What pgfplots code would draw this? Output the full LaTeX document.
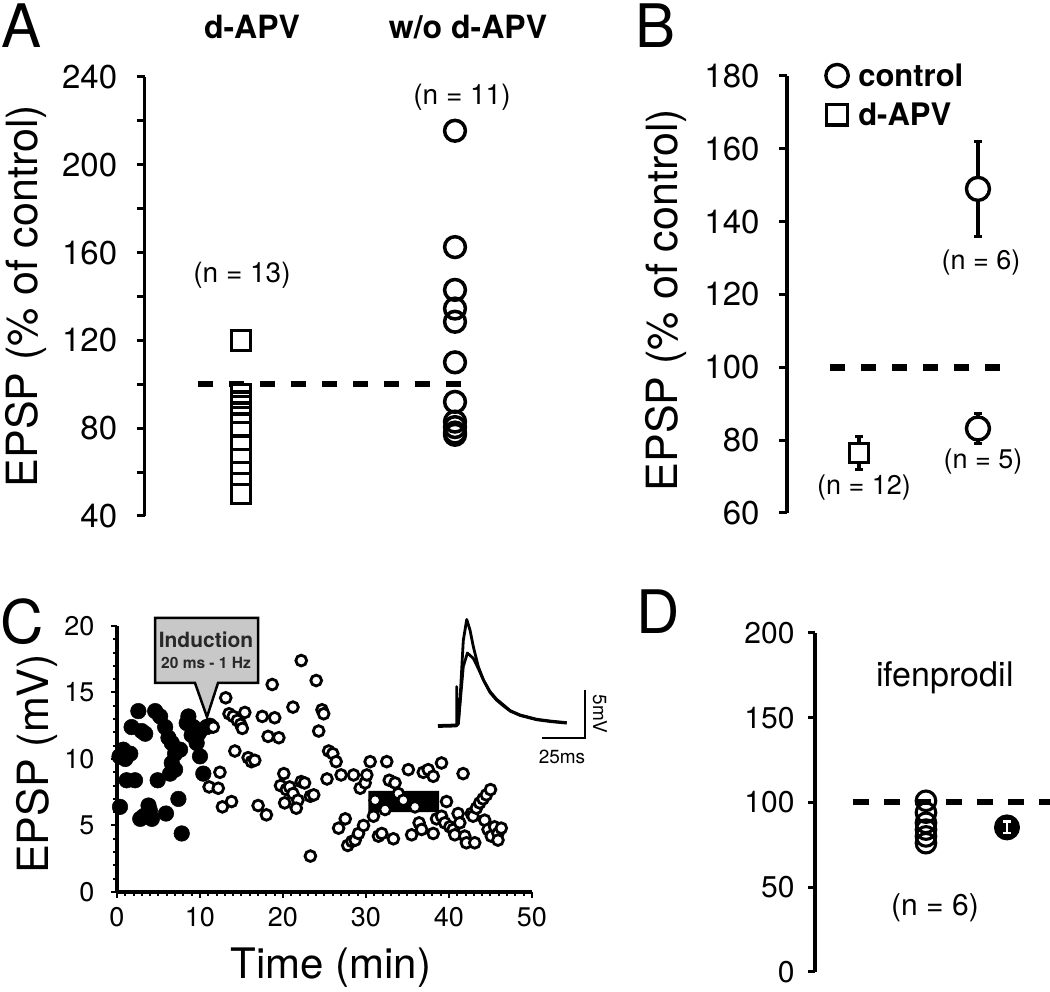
\documentclass[border=0pt]{standalone}
\usepackage{fontspec}
\setmainfont{TeX Gyre Heros}
\usepackage{pgfplots}
\pgfplotsset{compat=1.18}
\newcommand{\fs}[1]{\fontsize{#1}{#1}\selectfont}
\pgfdeclareplotmark{oA}{\pgfsetlinewidth{3.5pt}\pgfpathcircle{\pgfpointorigin}{\pgfplotmarksize}\pgfusepathqstroke}
\pgfdeclareplotmark{oBf}{\pgfsetlinewidth{3.4pt}\pgfsetfillcolor{white}\pgfpathcircle{\pgfpointorigin}{\pgfplotmarksize}\pgfusepathqfillstroke}
\pgfdeclareplotmark{oCf}{\pgfsetlinewidth{2.8pt}\pgfsetfillcolor{white}\pgfpathcircle{\pgfpointorigin}{\pgfplotmarksize}\pgfusepathqfillstroke}
\pgfdeclareplotmark{oD}{\pgfsetlinewidth{3.1pt}\pgfpathcircle{\pgfpointorigin}{\pgfplotmarksize}\pgfusepathqstroke}
\pgfdeclareplotmark{sqf}{\pgfsetlinewidth{3.2pt}\pgfsetfillcolor{white}\pgfpathrectangle{\pgfqpoint{-\pgfplotmarksize}{-\pgfplotmarksize}}{\pgfqpoint{2\pgfplotmarksize}{2\pgfplotmarksize}}\pgfusepathqfillstroke}
\pgfplotsset{
  /pgf/number format/assume math mode=true,
  panel/.style={scale only axis, anchor=south west, clip=false,
    axis line style={line width=3.2pt, black},
    tick align=outside, tick style={line width=3pt, black},
    tick pos=left},
}
\begin{document}
\begin{tikzpicture}
\path[use as bounding box] (0pt,0pt) rectangle (1050pt,992pt);

% ---------------- Panel A ----------------
\begin{axis}[panel, at={(144.7pt,476pt)}, width=374.5pt, height=439pt,
  xmin=0.55, xmax=2.3, ymin=40, ymax=240,
  axis x line=none, axis y line*=left,
  ytick={40,80,...,240}, minor ytick={60,100,...,220},
  major tick length=8pt, minor tick length=8pt,
  tick label style={font=\fs{33}}, yticklabel style={xshift=-16pt}]
\addplot[black, line width=6pt, dash pattern=on 15pt off 16pt] coordinates {(0.80,100) (2.05,100)};
\addplot[only marks, black, mark=sqf, mark size=9.8pt] coordinates {
(1,120) (1,95.5) (1,92) (1,90) (1,87) (1,85) (1,82) (1,78) (1,72) (1,66) (1,60) (1,55) (1,50)};
\addplot[only marks, black, mark=oA, mark size=10.4pt] coordinates {
(2,215.5) (2,162.5) (2,143) (2,134.5) (2,128.5) (2,110) (2,92) (2,83) (2,80.5) (2,78) (2,77)};
\end{axis}
\node[font=\fs{60}] at (22pt,966pt) {A};
\node[font=\fs{32}\bfseries] at (252pt,965pt) {d-APV};
\node[font=\fs{32}\bfseries] at (468pt,965pt) {w/o d-APV};
\node[font=\fs{28}] at (242pt,717pt) {(n = 13)};
\node[font=\fs{28}] at (462pt,895pt) {(n = 11)};
\node[font=\fs{43}, rotate=90] at (26pt,696pt) {EPSP (\% of control)};

% ---------------- Panel B ----------------
\begin{axis}[panel, at={(787pt,479pt)}, width=256.4pt, height=437pt,
  xmin=0.395, xmax=2.55, ymin=60, ymax=180,
  axis x line=none, axis y line*=left,
  ytick={60,80,...,180}, major tick length=8pt,
  tick label style={font=\fs{33}}, yticklabel style={xshift=-16pt},
  legend style={draw=none, fill=none, at={(axis cs:0.72,184)}, anchor=north west,
    font=\fs{31}\bfseries, row sep=11pt, column sep=8pt, inner sep=0pt},
  legend cell align=left,
  legend image code/.code={\draw[mark repeat=2, mark phase=2, #1] plot coordinates {(0pt,0pt) (12pt,0pt) (24pt,0pt)};}]
\addplot[black, line width=6.5pt, dash pattern=on 15pt off 16pt, forget plot] coordinates {(0.756,100) (2.185,100)};
% error bars (mean +- sem)
\addplot[black, line width=3.2pt, forget plot] coordinates {(1,72) (1,81)};
\addplot[black, line width=3.2pt, forget plot] coordinates {(0.966,81) (1.034,81)};
\addplot[black, line width=3.2pt, forget plot] coordinates {(0.966,72) (1.034,72)};
\addplot[black, line width=3.2pt, forget plot] coordinates {(2,136) (2,162)};
\addplot[black, line width=3.2pt, forget plot] coordinates {(1.966,162) (2.034,162)};
\addplot[black, line width=3.2pt, forget plot] coordinates {(1.966,136) (2.034,136)};
\addplot[black, line width=3.2pt, forget plot] coordinates {(2,79.1) (2,87.3)};
\addplot[black, line width=3.2pt, forget plot] coordinates {(1.966,87.3) (2.034,87.3)};
\addplot[black, line width=3.2pt, forget plot] coordinates {(1.966,79.1) (2.034,79.1)};
% means
\addplot[forget plot, only marks, black, mark=sqf, mark size=9.6pt] coordinates {(1,76.5)};
\addplot[forget plot, only marks, black, mark=oBf, mark size=11.5pt] coordinates {(2,149) (2,83.2)};
\addlegendimage{only marks, black, mark=oBf, mark size=11.2pt}
\addlegendentry{control}
\addlegendimage{only marks, black, mark=sqf, mark size=10.3pt}
\addlegendentry{d-APV}
\end{axis}
\node[font=\fs{60}] at (656pt,966pt) {B};
\node[font=\fs{43}, rotate=90] at (666pt,692pt) {EPSP (\% of control)};
\node[font=\fs{27}] at (981pt,729pt) {(n = 6)};
\node[font=\fs{27}] at (864pt,504pt) {(n = 12)};
\node[font=\fs{27}] at (983pt,530pt) {(n = 5)};

% ---------------- Panel C ----------------
\begin{axis}[panel, at={(117pt,100pt)}, width=415pt, height=266pt,
  xmin=0, xmax=50, ymin=0, ymax=20,
  axis x line*=bottom, axis y line*=left,
  xtick={0,10,...,50}, ytick={0,5,...,20},
  minor x tick num=9, minor y tick num=4,
  major tick length=6pt, minor tick length=4pt,
  tick style={line width=2pt, black},
  tick label style={font=\fs{27}}, yticklabel style={xshift=-13pt}, xticklabel style={yshift=-6pt}]
\addplot[only marks, black, line width=0.5pt, mark=*, mark size=7.8pt, mark options={fill=black}] coordinates {
(0.3,10.2) (0.36,6.4) (0.76,10.7) (1.0,10.0) (1.6,10.4) (1.16,8.4) (2.17,8.4) (1.76,12.4) (2.57,13.6)
(2.97,12.1) (3.4,11.9) (2.8,5.5) (3.2,5.7) (3.8,6.5) (3.97,6.1) (4.2,5.5) (4.6,13.6) (5.2,13.2) (4.9,8.4)
(5.8,12.4) (6.2,11.6) (5.9,5.9) (6.6,11.2) (7.0,10.4) (7.6,10.7) (7.0,9.2) (6.6,9.7) (6.4,8.9) (7.4,7.0)
(7.8,4.4) (8.6,13.2) (8.4,12.7) (9.2,12.4) (9.0,11.8) (9.8,11.9) (9.6,11.2) (10.0,10.2) (10.4,8.9)
(10.0,12.1) (10.8,12.4) (11.2,12.5)};
\addplot[fill=black, draw=none] coordinates {(30.3,6.0) (38.8,6.0) (38.8,7.6) (30.3,7.6) (30.3,6.0)};
\addplot[only marks, black, mark=oCf, mark size=5.4pt] coordinates {
(11.6,12.4) (11.1,7.9) (12.2,7.8) (12.4,9.0) (12.7,6.4) (13.8,6.8) (13.1,14.6) (13.5,13.4) (14.0,13.2)
(14.5,12.9) (14.9,12.6) (15.1,12.3) (15.4,13.5) (14.2,10.6) (15.8,10.1) (16.2,9.8) (16.6,9.9) (17.0,6.5)
(18.0,5.8) (17.5,13.2) (18.2,11.7) (18.7,15.6) (19.0,13.1) (19.5,11.6) (20.1,8.9) (19.7,8.0) (20.4,7.7)
(20.2,6.7) (20.8,7.9) (21.2,7.4) (21.2,13.9) (21.8,6.9) (22.2,8.3) (21.6,6.3) (22.6,8.2) (22.2,17.4)
(23.3,7.2) (23.7,7.3) (23.3,2.7) (24.0,15.9) (24.7,13.7) (24.9,13.4) (24.3,12.1) (25.3,8.5) (25.5,10.6)
(26.0,10.4) (26.4,9.8) (27.0,8.8) (26.7,4.8) (27.5,5.5) (27.8,3.5) (28.3,3.8) (28.7,3.9) (29.1,4.4)
(28.5,8.8) (29.3,7.8) (29.9,8.2) (29.7,5.0) (30.1,8.8) (30.5,9.8) (31.1,6.9) (30.9,5.7) (31.5,4.2)
(31.9,4.4) (32.5,9.8) (32.3,6.2) (32.8,8.4) (33.5,8.2) (33.3,4.0) (33.9,7.4) (34.5,6.9) (35.1,9.2)
(35.5,4.3) (35.9,6.4) (36.4,5.2) (36.7,4.7) (36.9,9.0) (37.5,9.2) (38.1,8.7) (38.1,4.4) (39.1,9.7)
(38.5,5.5) (39.1,5.7) (39.7,6.8) (39.5,5.2) (40.1,4.9) (40.5,4.7) (41.1,5.9) (41.3,5.2) (40.7,4.3)
(41.7,8.9) (41.9,4.2) (42.1,3.7) (42.7,5.9) (42.9,5.7) (43.1,3.7) (43.3,6.3) (43.7,6.7) (44.1,7.0)
(44.5,7.3) (45.0,7.7) (44.3,5.4) (44.7,4.7) (45.1,4.2) (45.5,4.9) (45.9,4.4) (46.3,4.8) (45.9,3.9)};
\end{axis}
\node[font=\fs{60}] at (22pt,370pt) {C};
\node[font=\fs{43}, rotate=90] at (37pt,228pt) {EPSP (mV)};
\node[font=\fs{42}] at (331pt,24pt) {Time (min)};
\draw[line width=2.5pt, fill={rgb,255:red,200;green,200;blue,200}, line join=miter]
  (155pt,374pt) -- (258pt,374pt) -- (258pt,309pt) -- (218pt,309pt) -- (207pt,275pt)
  -- (195pt,309pt) -- (155pt,309pt) -- cycle;
\node[font=\fs{21}\bfseries, text={rgb,255:red,40;green,40;blue,40}] at (206pt,352pt) {Induction};
\node[font=\fs{15.5}\bfseries, text={rgb,255:red,40;green,40;blue,40}] at (206pt,329pt) {20 ms - 1 Hz};

% inset trace
\begin{axis}[scale only axis, anchor=south west, at={(438pt,266pt)}, width=154.8pt, height=115.2pt,
  xmin=0, xmax=90, ymin=0, ymax=12, hide axis, clip=false]
\addplot[black, line width=2.8pt, line join=round] coordinates {
(0,0.05) (9.9,0.1) (10.85,0.05) (10.85,4.1) (11.2,0.3) (11.8,0.3) (12.8,2.7) (14.7,8.9) (16.7,11.1)
(18.6,10.0) (20.5,8.3) (23.4,6.2) (26.4,4.8) (30.2,3.6) (34,2.8) (38,2.2) (42,1.6) (47.7,1.15) (57.4,0.7) (66,0.5) (74.8,0.35)};
\addplot[black, line width=2.8pt, line join=round] coordinates {
(0,-0.05) (10.5,0) (11.8,0.2) (12.8,2.3) (14.7,6.2) (17.1,7.6) (20.5,7.05) (23.4,6.0) (26.4,4.8) (30.2,3.5)
(34,2.7) (38,2.1) (42,1.55) (47.7,1.1) (57.4,0.65) (66,0.45) (74.8,0.3)};
\addplot[black, line width=2.6pt] coordinates {(60.5,-1.25) (85.5,-1.25) (85.5,3.75)};
\end{axis}
\node[font=\fs{19}] at (562pt,235pt) {25ms};
\node[font=\fs{19}, rotate=-90] at (600pt,278pt) {5mV};

% ---------------- Panel D ----------------
\begin{axis}[panel, at={(815pt,20pt)}, width=234.9pt, height=339pt,
  xmin=-0.37, xmax=2.53, ymin=0, ymax=200,
  axis x line=none, axis y line*=left,
  ytick={0,50,...,200}, major tick length=7pt,
  tick label style={font=\fs{30}}, yticklabel style={xshift=-10pt}]
\addplot[black, line width=6pt, dash pattern=on 16pt off 15pt] coordinates {(0.099,100) (2.53,100)};
\addplot[only marks, black, mark=oD, mark size=9.8pt] coordinates {
(1,101) (1,94) (1,88) (1,84) (1,80) (1,76)};
\addplot[only marks, black, line width=1pt, mark=*, mark size=12.5pt, mark options={fill=black}] coordinates {(2,85.3)};
\end{axis}
% overlay: white error bar (mean +- sem) drawn on top of the filled mean marker
\begin{axis}[scale only axis, anchor=south west, at={(815pt,20pt)}, width=234.9pt, height=339pt,
  xmin=-0.37, xmax=2.53, ymin=0, ymax=200, hide axis, clip=false]
\addplot[white, line width=2.3pt] coordinates {(2,81.9) (2,88.7)};
\addplot[white, line width=2.3pt] coordinates {(1.955,88.7) (2.045,88.7)};
\addplot[white, line width=2.3pt] coordinates {(1.955,81.9) (2.045,81.9)};
\end{axis}
\node[font=\fs{60}] at (658pt,380pt) {D};
\node[font=\fs{34}] at (945pt,314pt) {ifenprodil};
\node[font=\fs{30}] at (935pt,84pt) {(n = 6)};
\end{tikzpicture}
\end{document}
